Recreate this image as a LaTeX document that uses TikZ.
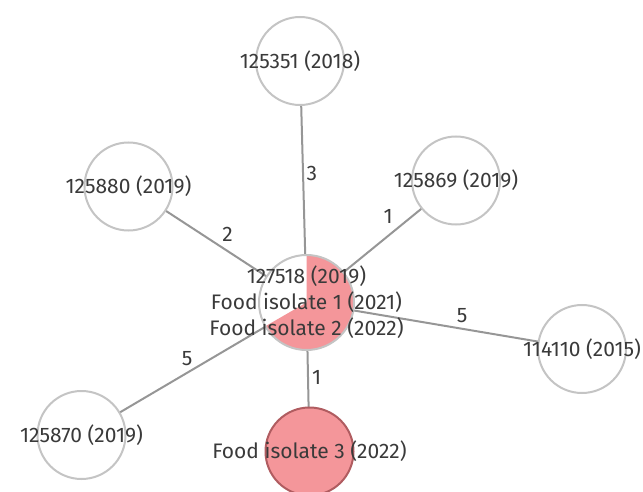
\documentclass[tikz,border=0pt]{standalone}
\usepackage{fontspec}
\setmainfont{Fira Sans}
\usetikzlibrary{backgrounds}
\definecolor{pinkfill}{RGB}{244,150,154}
\definecolor{pinkline}{RGB}{176,92,96}
\definecolor{ringgray}{RGB}{196,196,196}
\definecolor{edgegray}{RGB}{150,150,150}
\definecolor{txtgray}{RGB}{58,58,58}

\begin{document}
\begin{tikzpicture}[x=1pt, y=1pt,
  every node/.style={font=\fontsize{21}{26}\selectfont, text=txtgray},
  iso/.style={circle, draw=ringgray, line width=2pt, fill=white, minimum size=88pt, inner sep=0pt},
  link/.style={draw=edgegray, line width=2pt},
  dist/.style={inner sep=0pt}]
\useasboundingbox (0,0) rectangle (643,-492);
% isolates
\node[iso, minimum size=95pt, path picture={\fill[pinkfill] (path picture bounding box.center) -- ++(90:60) arc[start angle=90, end angle=-150, radius=60] -- cycle;},
  label={[align=center]center:{127518 (2019)\\Food isolate 1 (2021)\\Food isolate 2 (2022)}}] (n127518) at (306.5,-302.5) {};
\node[iso, label={center:125351 (2018)}] (n125351) at (300,-61) {};
\node[iso, label={center:125880 (2019)}] (n125880) at (128.5,-186.5) {};
\node[iso, label={center:125869 (2019)}] (n125869) at (456,-180.5) {};
\node[iso, label={center:114110 (2015)}] (n114110) at (582,-349) {};
\node[iso, label={center:125870 (2019)}] (n125870) at (81.5,-435) {};
\node[iso, fill=pinkfill, draw=pinkline, label={center:Food isolate 3 (2022)}] (food3) at (309.5,-451.5) {};
% links with distances
\begin{scope}[on background layer]
\draw[link] (n127518.center) -- node[dist, xshift=8.5, yshift=7.8] {3} (n125351.center);
\draw[link] (n127518.center) -- node[dist, xshift=10, yshift=10] {2} (n125880.center);
\draw[link] (n127518.center) -- node[dist, xshift=7, yshift=24.8] {1} (n125869.center);
\draw[link] (n127518.center) -- node[dist, xshift=18, yshift=10] {5} (n114110.center);
\draw[link] (n127518.center) -- node[dist, xshift=-6.8, yshift=9.8] {5} (n125870.center);
\draw[link] (n127518.center) -- node[dist, xshift=8.7] {1} (food3.center);
\end{scope}
\end{tikzpicture}
\end{document}
